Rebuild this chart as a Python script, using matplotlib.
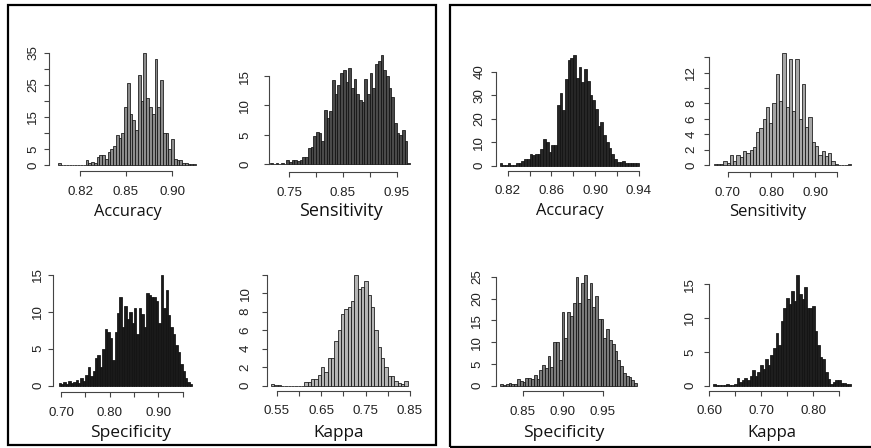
import matplotlib
matplotlib.use('Agg')
import matplotlib.pyplot as plt
import numpy as np
from matplotlib.patches import Rectangle
from matplotlib.transforms import offset_copy

# ---------------- data (density histograms) ----------------
# Left block
acc1_start, acc1_binw = 0.776, 0.003
acc1_heights = [0.5, 0, 0, 0, 0, 0, 0, 0, 0, 0, 1.5, 0.5, 1, 0.5, 2.5, 3, 3, 2, 4, 5,
                6, 9.5, 8.5, 10, 18, 25.5, 16, 14, 11, 28, 20, 35, 21, 18, 16, 33, 18, 26.5, 10, 10,
                5, 8, 2, 1.5, 1.5, 0.5, 0.5, 0.3, 0.3, 0.3]
acc1_xticks = [0.80, 0.85, 0.90]
acc1_xticklabels = ['0.82', '0.85', '0.90']
acc1_yticks = [0, 5, 10, 15, 20, 25, 30, 35]
acc1_yticklabels = ['0', '5', '', '15', '', '25', '', '35']

sens1_start, sens1_binw = 0.715, 0.005
sens1_heights = [0.3, 0.1, 0.3, 0.1, 0.2, 0.1, 0.7, 0.4, 0.7, 0.8, 0.6, 0.8, 1.2, 1.3, 2.7, 3.0,
                 4.8, 5.5, 5.3, 4.0, 9.3, 7.8, 9.0, 14.3, 12.0, 13.5, 15.5, 16.0, 14.0, 16.3, 13.0,
                 14.5, 12.0, 11.0, 10.5, 14.5, 12.0, 15.5, 13.0, 17.0, 17.5, 18.5, 16.0, 15.0, 13.0,
                 11.5, 7.0, 5.3, 5.0, 5.8, 4.0, 0.3]
sens1_xticks = [0.75, 0.80, 0.85, 0.90, 0.95]
sens1_xticklabels = ['0.75', '', '0.85', '', '0.95']
sens1_yticks = [0, 5, 10, 15]
sens1_yticklabels = ['0', '5', '10', '15']

spec1_start, spec1_binw = 0.695, 0.005
spec1_heights = [0.3, 0.2, 0.5, 0.2, 0.7, 0.3, 0.5, 0.8, 0.4, 1.0, 0.6, 1.5, 2.5, 1.3, 2.0, 3.8,
                 4.2, 2.5, 5.0, 7.7, 7.2, 6.5, 3.5, 7.2, 9.8, 12.0, 8.0, 10.8, 9.0, 10.0, 8.5, 10.5,
                 7.0, 10.5, 9.7, 8.0, 12.5, 12.3, 12.0, 12.0, 11.5, 8.5, 15.0, 10.5, 13.0, 9.5, 8.0,
                 7.0, 5.5, 4.5, 3.0, 2.0, 1.0, 0.5, 0.2]
spec1_xticks = [0.70, 0.75, 0.80, 0.85, 0.90, 0.95]
spec1_xticklabels = ['0.70', '', '0.80', '', '0.90', '']
spec1_yticks = [0, 5, 10, 15]
spec1_yticklabels = ['0', '5', '10', '15']

kap1_start, kap1_binw = 0.5375, 0.0075
kap1_heights = [0.15, 0.05, 0.1, 0, 0, 0, 0, 0, 0, 0, 0.4, 0.4, 0.7, 0.7, 1.2, 2.0, 1.5, 3.0,
                3.0, 4.8, 6.0, 7.8, 8.3, 8.5, 9.2, 12.0, 10.5, 10.7, 11.3, 9.8, 8.5, 6.0, 4.2, 3.0,
                2.0, 1.0, 1.0, 0.5, 0.3, 0.2, 0.5]
kap1_xticks = [0.55, 0.60, 0.65, 0.70, 0.75, 0.80, 0.85]
kap1_xticklabels = ['0.55', '', '0.65', '', '0.75', '', '0.85']
kap1_yticks = [0, 2, 4, 6, 8, 10, 12]
kap1_yticklabels = ['0', '2', '4', '6', '8', '10', '']

# Right block
acc2_start, acc2_binw = 0.8125, 0.0025
acc2_heights = [1, 0.5, 0.5, 1, 0.5, 0.5, 1, 1, 2, 3, 3, 5, 4.5, 5, 5, 7, 11.5, 10, 6, 9, 9,
                26, 31, 23.5, 37, 45, 46, 47, 37.5, 42, 35.5, 41, 36, 30, 28, 24, 17, 18.5, 13,
                10, 7.5, 5, 3, 1.5, 1.5, 2, 1, 1, 1, 1, 1]
acc2_xticks = [0.82, 0.84, 0.86, 0.88, 0.90, 0.92, 0.94]
acc2_xticklabels = ['0.82', '', '0.86', '', '0.90', '', '0.94']
acc2_yticks = [0, 10, 20, 30, 40]
acc2_yticklabels = ['0', '10', '20', '30', '40']

sens2_start, sens2_binw = 0.6675, 0.0075
sens2_heights = [0.1, 0.1, 0.1, 0.5, 0.3, 1.3, 0.5, 1.3, 1.0, 1.8, 1.5, 2.0, 2.3, 4.3, 4.8,
                 6.0, 7.5, 5.5, 8.0, 11.8, 8.3, 14.5, 7.5, 13.8, 7.0, 13.8, 6.0, 10.5, 5.0, 6.2,
                 3.0, 2.5, 1.3, 1.8, 1.2, 1.6, 0.5, 0.1, 0, 0, 0, 0.1]
sens2_xticks = [0.70, 0.75, 0.80, 0.85, 0.90, 0.95]
sens2_xticklabels = ['0.70', '', '0.80', '', '0.90', '']
sens2_yticks = [0, 2, 4, 6, 8, 10, 12, 14]
sens2_yticklabels = ['0', '2', '4', '6', '8', '', '12', '']

spec2_start, spec2_binw = 0.8215, 0.0035
spec2_heights = [0.3, 0.2, 0.3, 0.6, 0.3, 0.3, 1.5, 1.0, 0.8, 1.8, 1.8, 1.5, 2.5, 1.5, 3.5, 4.8,
                 4.0, 6.8, 4.2, 10.0, 10.0, 6.0, 16.8, 11.0, 16.8, 16.0, 19.0, 25.0, 19.0, 23.5,
                 25.5, 20.0, 23.5, 18.0, 20.5, 15.2, 15.2, 11.0, 13.0, 10.5, 9.5, 8.0, 6.0, 4.5,
                 3.0, 2.2, 2.0, 1.2, 0.7]
spec2_xticks = [0.85, 0.90, 0.95]
spec2_xticklabels = ['0.85', '0.90', '0.95']
spec2_yticks = [0, 5, 10, 15, 20, 25]
spec2_yticklabels = ['0', '5', '10', '15', '20', '25']

kap2_start, kap2_binw = 0.6075, 0.005
kap2_heights = [0.2, 0.1, 0.1, 0.1, 0.1, 0.3, 0.1, 0.1, 0.2, 1.1, 0.5, 0.8, 1.1, 0.8, 1.5, 2.3,
                1.5, 2.0, 3.1, 2.5, 4.0, 3.0, 4.5, 5.5, 7.8, 6.0, 9.5, 11.5, 13.0, 12.0, 14.0, 12.5,
                16.3, 13.5, 12.8, 14.5, 11.5, 11.5, 11.8, 8.0, 6.0, 4.2, 4.0, 2.0, 1.0, 0.3, 0.5,
                0.8, 0.8, 0.4, 0.4, 0.3, 0.3]
kap2_xticks = [0.60, 0.65, 0.70, 0.75, 0.80, 0.85]
kap2_xticklabels = ['0.60', '', '0.70', '', '0.80', '']
kap2_yticks = [0, 5, 10, 15]
kap2_yticklabels = ['0', '5', '10', '15']

xlabels = ['Accuracy', 'Sensitivity', 'Specificity', 'Kappa',
           'Accuracy', 'Sensitivity', 'Specificity', 'Kappa']

# ---------------- layout (pixels) ----------------
W, H, DPI = 871, 448, 100
fig = plt.figure(figsize=(W / DPI, H / DPI), dpi=DPI)
fig.patch.set_facecolor('white')

TICK_FONT = dict(family=['Liberation Sans', 'DejaVu Sans'], size=9.6, color='#222222')
LAB_FAMILY = ['Open Sans', 'DejaVu Sans']
AXCOL = '#444444'

panels = [
    dict(start=acc1_start, bw=acc1_binw, h=acc1_heights, xt=acc1_xticks, xtl=acc1_xticklabels,
         yt=acc1_yticks, ytl=acc1_yticklabels, face='#8c8c8c',
         yaxis=49, y0=165, yref=(35, 53), xref=((0.85, 126), (0.90, 172)), xaxis=171,
         ypad=16, xlab=(128, 212), lsize=11.8),
    dict(start=sens1_start, bw=sens1_binw, h=sens1_heights, xt=sens1_xticks, xtl=sens1_xticklabels,
         yt=sens1_yticks, ytl=sens1_yticklabels, face='#4a4a4a',
         yaxis=269.3, y0=164.3, yref=(15, 76), xref=((0.75, 289), (0.95, 396.7)), xaxis=172.3,
         ypad=24, xlab=(341, 211), lsize=13.0),
    dict(start=spec1_start, bw=spec1_binw, h=spec1_heights, xt=spec1_xticks, xtl=spec1_xticklabels,
         yt=spec1_yticks, ytl=spec1_yticklabels, face='#1a1a1a',
         yaxis=53.3, y0=385.7, yref=(15, 274.7), xref=((0.70, 61), (0.90, 158.3)), xaxis=392.3,
         ypad=15, xlab=(130.5, 433), lsize=12.5),
    dict(start=kap1_start, bw=kap1_binw, h=kap1_heights, xt=kap1_xticks, xtl=kap1_xticklabels,
         yt=kap1_yticks, ytl=kap1_yticklabels, face='#b4b4b4',
         yaxis=266.7, y0=385.7, yref=(12, 274.7), xref=((0.55, 276.7), (0.85, 410)), xaxis=390.7,
         ypad=21, xlab=(338.5, 433), lsize=12.3),
    dict(start=acc2_start, bw=acc2_binw, h=acc2_heights, xt=acc2_xticks, xtl=acc2_xticklabels,
         yt=acc2_yticks, ytl=acc2_yticklabels, face='#262626',
         yaxis=496.3, y0=165.7, yref=(40, 71.7), xref=((0.82, 507.7), (0.94, 638.7)), xaxis=170.7,
         ypad=17, xlab=(569.5, 211), lsize=11.8),
    dict(start=sens2_start, bw=sens2_binw, h=sens2_heights, xt=sens2_xticks, xtl=sens2_xticklabels,
         yt=sens2_yticks, ytl=sens2_yticklabels, face='#a6a6a6',
         yaxis=709.3, y0=165, yref=(12, 72.7), xref=((0.70, 727.7), (0.90, 815)), xaxis=172.3,
         ypad=18, xlab=(767.5, 211.5), lsize=12.0),
    dict(start=spec2_start, bw=spec2_binw, h=spec2_heights, xt=spec2_xticks, xtl=spec2_xticklabels,
         yt=spec2_yticks, ytl=spec2_yticklabels, face='#7a7a7a',
         yaxis=496.3, y0=385.7, yref=(25, 276.7), xref=((0.85, 523), (0.95, 602.7)), xaxis=391.3,
         ypad=19, xlab=(564, 432.5), lsize=12.6),
    dict(start=kap2_start, bw=kap2_binw, h=kap2_heights, xt=kap2_xticks, xtl=kap2_xticklabels,
         yt=kap2_yticks, ytl=kap2_yticklabels, face='#1e1e1e',
         yaxis=709.3, y0=385.7, yref=(15, 284), xref=((0.60, 709.3), (0.80, 813.3)), xaxis=390.7,
         ypad=19, xlab=(772, 432.5), lsize=12.0),
]

for p, lab in zip(panels, xlabels):
    (xa_v, xa_p), (xb_v, xb_p) = p['xref']
    xscale = (xb_p - xa_p) / (xb_v - xa_v)
    yunit = (p['y0'] - p['yref'][1]) / p['yref'][0]
    left_px, right_px = p['yaxis'], p['yaxis'] + 165
    top_px = p['y0'] - 125
    ax = fig.add_axes([left_px / W, 1 - p['y0'] / H, (right_px - left_px) / W, (p['y0'] - top_px) / H])
    ax.set_xlim(xa_v + (left_px - xa_p) / xscale, xa_v + (right_px - xa_p) / xscale)
    ax.set_ylim(0, (p['y0'] - top_px) / yunit)
    ax.patch.set_alpha(0)

    heights = np.array(p['h'], dtype=float)
    lefts = p['start'] + p['bw'] * np.arange(len(heights))
    ax.bar(lefts, heights, width=p['bw'], align='edge', color=p['face'],
           edgecolor='#111111', linewidth=0.55, clip_on=False)

    for s in ('top', 'right'):
        ax.spines[s].set_visible(False)
    ax.spines['left'].set_bounds(p['yt'][0], p['yt'][-1])
    ax.spines['bottom'].set_bounds(p['xt'][0], p['xt'][-1])
    ax.spines['bottom'].set_position(('outward', (p['xaxis'] - p['y0']) * 72 / DPI))
    for s in ('left', 'bottom'):
        ax.spines[s].set_color(AXCOL)
        ax.spines[s].set_linewidth(0.8)
    ax.set_xticks(p['xt'])
    ax.set_yticks(p['yt'])
    ax.set_xticklabels([])
    ax.set_yticklabels([])
    ax.tick_params(direction='out', length=3.3, width=0.8, color=AXCOL)

    # tick labels (R style: y labels rotated)
    ytr = offset_copy(ax.get_yaxis_transform(), fig=fig, x=-p['ypad'], y=0, units='dots')
    for v, t in zip(p['yt'], p['ytl']):
        if t:
            ax.text(0, v, t, transform=ytr, rotation=90, ha='center', va='center', **TICK_FONT)
    for v, t in zip(p['xt'], p['xtl']):
        if t:
            fx = (xa_p + (v - xa_v) * xscale) / W
            fig.text(fx, 1 - (p['xaxis'] + 20.5) / H, t, ha='center', va='center', **TICK_FONT)
    fig.text(p['xlab'][0] / W, 1 - p['xlab'][1] / H, lab, ha='center', va='center',
             family=LAB_FAMILY, size=p['lsize'], color='#111111')

# frames around the two blocks
fig.add_artist(Rectangle((8 / W, 1 - 445 / H), (436 - 8) / W, (445 - 5) / H, fill=False,
                         lw=1.6, ec='black', transform=fig.transFigure))
fig.add_artist(Rectangle((450 / W, 1 - 447 / H), (880 - 450) / W, (447 - 5) / H, fill=False,
                         lw=1.6, ec='black', transform=fig.transFigure, clip_on=False))

fig.savefig('out.png', dpi=DPI)
